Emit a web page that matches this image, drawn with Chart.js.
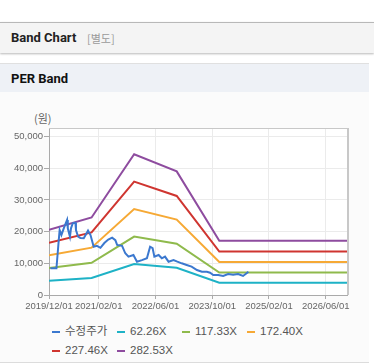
<!DOCTYPE html>
<html>
<head>
<meta charset="utf-8">
<script src="https://cdn.jsdelivr.net/npm/chart.js@4.4.1/dist/chart.umd.min.js"></script>
<style>
    body { margin: 0; width: 374px; height: 364px; background: #fff; position: relative; overflow: hidden; font-family: "Liberation Sans", "Noto Sans CJK KR", sans-serif; }
    .hdr { position: absolute; left: 0; top: 22px; width: 374px; height: 30px; background: #f4f4f4; border-top: 1px solid #b8b8b8; box-shadow: 0 1px 2px rgba(0,0,0,0.28); }
    .hdr b { position: absolute; left: 11px; top: 7px; font: bold 13px Roboto, sans-serif; color: #222; }
    .hdr span { position: absolute; left: 87px; top: 7px; font: 11px "Noto Sans CJK KR", sans-serif; color: #9a9a9a; }
    .panel { position: absolute; left: 0; top: 63px; width: 369px; height: 298px; background: #fbfbfb; border-top: 1px solid #e0e0e0; border-bottom: 1px solid #dcdcdc; }
    .sub { height: 28px; background: #eef1f6; }
    .sub b { position: absolute; left: 11px; top: 7px; font: bold 13px Roboto, sans-serif; color: #111; }
    .unit { position: absolute; left: 34px; top: 110px; font: 11px "Noto Sans CJK KR", sans-serif; color: #666; }
    .wrap { position: absolute; left: 0; top: 92px; width: 370px; height: 226px; }
    #legend { position: absolute; left: 52px; top: 322px; display: grid; grid-template-columns: repeat(4, 65px); grid-auto-rows: 19px; }
    #legend div { font-size: 11.5px; color: #555; white-space: nowrap; line-height: 19px; }
    #legend i { display: inline-block; width: 8px; height: 2px; vertical-align: middle; margin-right: 5px; }
</style>
</head>
<body>
<div class="hdr"><b>Band Chart</b><span>[별도]</span></div>
<div class="panel"><div class="sub"><b>PER Band</b></div></div>
<div class="unit">(원)</div>
<div class="wrap"><canvas id="bandChart" width="370" height="226"></canvas></div>
<div id="legend"></div>
<script>
// x값 = 2019/12/01 기준 경과 개월 수
const tickMonths = [0, 14, 30, 46, 62, 78];
const tickLabels = ['2019/12/01', '2021/02/01', '2022/06/01', '2023/10/01', '2025/02/01', '2026/06/01'];
const yTicks = [0, 10000, 20000, 30000, 40000, 50000];

const bandMonths = [0, 12, 24, 36, 48, 84];
const band1 = [4530, 5390, 9790, 8590, 3850, 3850];       // 62.26X
const band2 = [8540, 10160, 18440, 16190, 7100, 7100];    // 117.33X
const band3 = [12550, 14930, 27100, 23790, 10430, 10430]; // 172.40X
const band4 = [16450, 19750, 35800, 31250, 13700, 13700]; // 227.46X
const band5 = [20570, 24460, 44400, 39000, 17100, 17100]; // 282.53X

const priceMonths = [0.4, 2.1, 2.75, 3.0, 3.5, 4.16, 5.1, 5.3, 5.9, 6.2, 6.7, 7.45, 7.6, 8.2, 8.85, 9.8, 11.0, 11.7,
    12.6, 13.5, 14.5, 15.6, 16.7, 17.8, 18.7, 19.2, 20.6, 21.5, 22.4, 23.8, 24.8, 26.2, 27.6, 28.5, 29.2, 29.7,
    30.9, 31.8, 32.7, 33.7, 35.1, 36.0, 37.4, 38.8, 40.2, 41.7, 43.1, 44.5, 45.4, 46.3, 47.7, 49.1, 50.5, 51.9,
    53.3, 54.7, 55.7, 56.2];
const priceValues = [8430, 8430, 17370, 20500, 18950, 21050, 23700, 21050, 18420, 21050, 22630, 22800, 20500, 18420, 18000, 17900, 20300, 18900,
    15250, 15500, 14900, 16400, 17500, 18100, 17300, 15800, 15500, 13160, 12100, 12630, 10510, 11000, 11580, 15250, 14800, 12100,
    12630, 11580, 12100, 10510, 11050, 10600, 10000, 9470, 8940, 7890, 7360, 7360, 7040, 6310, 6310, 6000, 6630, 6400,
    6630, 6000, 6840, 7360];

const seriesNames = ['수정주가', '62.26X', '117.33X', '172.40X', '227.46X', '282.53X'];
const seriesColors = ['#3b78cf', '#1eb2c6', '#8fba4c', '#f6a935', '#cf3530', '#8e4c9f'];

function toPoints(xs, ys) {
    return xs.map((x, i) => ({ x: x, y: ys[i] }));
}

const seriesData = [
    toPoints(priceMonths, priceValues),
    toPoints(bandMonths, band1),
    toPoints(bandMonths, band2),
    toPoints(bandMonths, band3),
    toPoints(bandMonths, band4),
    toPoints(bandMonths, band5)
];

// 플롯 영역 배경 + 위/오른쪽 테두리
const plotFrame = {
    id: 'plotFrame',
    beforeDraw(chart) {
        const a = chart.chartArea, c = chart.ctx;
        c.save();
        c.fillStyle = '#fff';
        c.fillRect(a.left, a.top, a.right - a.left, a.bottom - a.top);
        c.restore();
    },
    afterDraw(chart) {
        const a = chart.chartArea, c = chart.ctx;
        c.save();
        c.strokeStyle = '#c8c8c8';
        c.lineWidth = 1;
        c.beginPath();
        c.moveTo(a.left, a.top + 0.5);
        c.lineTo(a.right, a.top + 0.5);
        c.stroke();
        c.lineWidth = 2;
        c.beginPath();
        c.moveTo(a.right + 1, a.top);
        c.lineTo(a.right + 1, a.bottom);
        c.stroke();
        c.restore();
    }
};

const tickFont = { family: 'Liberation Sans', size: 9.5 };

new Chart(document.getElementById('bandChart'), {
    type: 'line',
    data: {
        datasets: seriesData.map((d, i) => ({
            label: seriesNames[i],
            data: d,
            borderColor: seriesColors[i],
            backgroundColor: seriesColors[i],
            borderWidth: 2,
            pointRadius: 0,
            tension: 0,
            fill: false
        }))
    },
    options: {
        responsive: false,
        animation: false,
        devicePixelRatio: 1,
        layout: { padding: { left: 0, top: 36, right: 23, bottom: 0 } },
        plugins: { legend: { display: false }, tooltip: { enabled: false } },
        scales: {
            x: {
                type: 'linear',
                min: 0, max: 84,
                afterBuildTicks: s => { s.ticks = tickMonths.map(v => ({ value: v })); },
                afterFit: s => { s.height = 23; },
                ticks: { color: '#666', font: tickFont, padding: 2, maxRotation: 0, autoSkip: false,
                    callback: (v, i) => tickLabels[i] },
                grid: { color: '#ebebeb', tickColor: '#aaa', tickLength: 4 },
                border: { color: '#aaa' }
            },
            y: {
                min: 0, max: 52700,
                afterBuildTicks: s => { s.ticks = yTicks.map(v => ({ value: v })); },
                afterFit: s => { s.width = 49; },
                ticks: { color: '#666', font: tickFont, padding: 1, autoSkip: false,
                    callback: (v, i) => yTicks[i].toLocaleString('en-US') },
                grid: { color: '#ebebeb', tickColor: '#aaa', tickLength: 5 },
                border: { color: '#aaa' }
            }
        }
    },
    plugins: [plotFrame]
});

// 범례
document.getElementById('legend').innerHTML = seriesNames.map((n, i) =>
    `<div><i style="background:${seriesColors[i]}"></i>${n}</div>`).join('');
</script>
</body>
</html>
